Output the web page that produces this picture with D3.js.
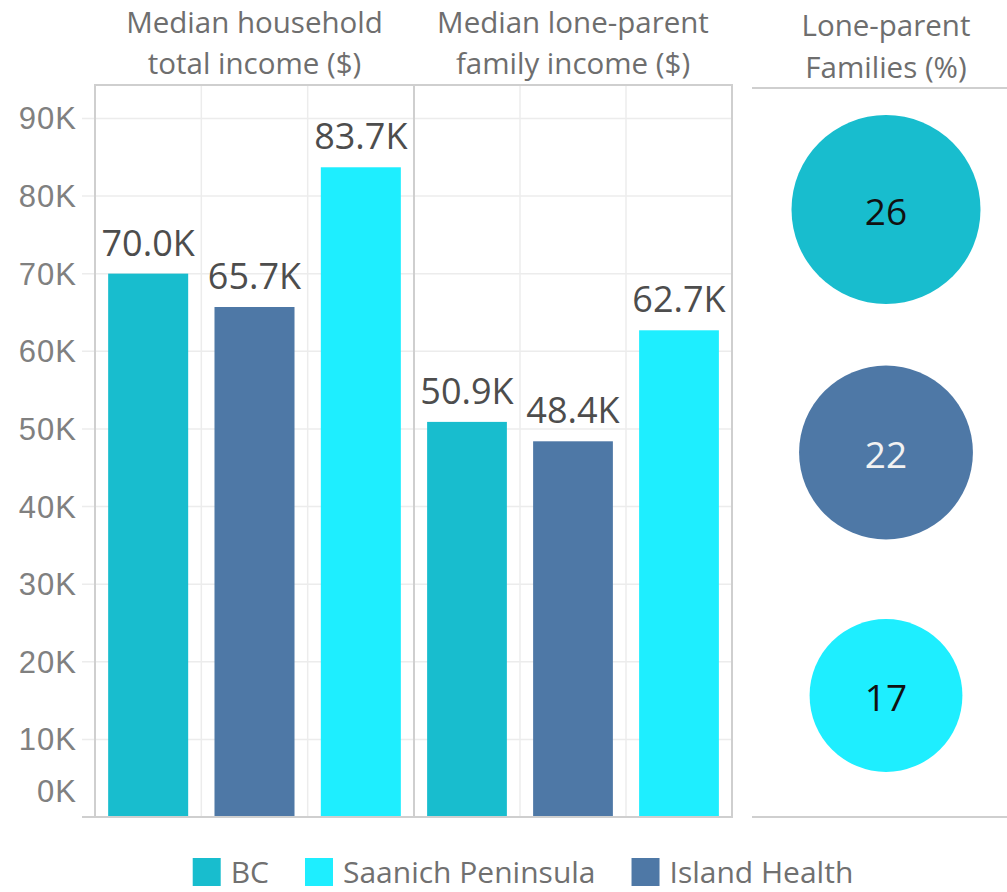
<!DOCTYPE html>
<html>
<head>
<meta charset="utf-8">
<script src="https://cdn.jsdelivr.net/npm/d3@7"></script>
<style>
  html, body { margin: 0; padding: 0; background: #fff; }
  svg { display: block; font-family: "Open Sans", "Noto Sans", sans-serif; }
</style>
</head>
<body>
<svg id="chart" width="1007" height="892"></svg>
<script>
// ---- data ----
const regions = ["BC", "Island Health", "Saanich Peninsula"];
const householdIncome = [70000, 65700, 83700];
const loneParentIncome = [50900, 48400, 62700];
const loneParentPct = [26, 22, 17];
const legendOrder = ["BC", "Saanich Peninsula", "Island Health"];
const regionColors = ["#18bdce", "#4e78a6", "#1eeeff"];
const yTicks = [0, 10000, 20000, 30000, 40000, 50000, 60000, 70000, 80000, 90000];
const panelTitles = [
  ["Median household", "total income ($)"],
  ["Median lone-parent", "family income ($)"]
];
const circleTitle = ["Lone-parent", "Families (%)"];
const pctLabelColors = ["#111111", "#f2f2f2", "#111111"];

// ---- layout ----
const svg = d3.select("#chart");
const plotTop = 85, plotBottom = 817;
const panels = [[95, 414], [414, 732]];
const circlePanel = [752, 1007];
const circleTop = 88;

const color = d3.scaleOrdinal().domain(regions).range(regionColors);
const y = d3.scaleLinear().domain([0, 94300]).range([plotBottom, plotTop]);

// gridlines (horizontal) across both bar panels, with small extension left
const grid = svg.append("g");
grid.selectAll("line.h")
  .data(yTicks.filter(d => d > 0))
  .join("line")
  .attr("x1", 82).attr("x2", panels[1][1])
  .attr("y1", d => y(d)).attr("y2", d => y(d))
  .attr("stroke", "#ececec").attr("stroke-width", 1.5);

// y axis labels
const yAxis = d3.axisLeft(y)
  .tickValues(yTicks)
  .tickSize(0)
  .tickPadding(18)
  .tickFormat(d => (d / 1000) + "K");
const ya = svg.append("g").attr("transform", `translate(${panels[0][0]},0)`).call(yAxis);
ya.select(".domain").remove();
ya.selectAll("text")
  .attr("fill", "#808080")
  .style("font-size", "31px")
  .style("letter-spacing", "1px")
  .attr("dy", "0.34em")
  .attr("y", d => d === 0 ? -26 : 0);

// bar panels
const datasets = [householdIncome, loneParentIncome];
panels.forEach((p, i) => {
  const x = d3.scaleBand().domain(regions).range(p).paddingInner(0.2475).paddingOuter(0.12375);
  const g = svg.append("g");
  g.selectAll("line.v")
    .data(regions.slice(1))
    .join("line")
    .attr("x1", d => x(d) - x.step() * x.paddingInner() / 2)
    .attr("x2", d => x(d) - x.step() * x.paddingInner() / 2)
    .attr("y1", plotTop).attr("y2", plotBottom)
    .attr("stroke", "#ececec").attr("stroke-width", 1.5);

  const rows = regions.map((r, k) => ({ region: r, value: datasets[i][k] }));
  g.selectAll("rect")
    .data(rows)
    .join("rect")
    .attr("x", d => x(d.region))
    .attr("width", x.bandwidth())
    .attr("y", d => y(d.value))
    .attr("height", d => y(0) - y(d.value))
    .attr("fill", d => color(d.region));

  g.selectAll("text.val")
    .data(rows)
    .join("text")
    .attr("class", "val")
    .attr("x", d => x(d.region) + x.bandwidth() / 2)
    .attr("y", d => y(d.value) - 18)
    .attr("text-anchor", "middle")
    .attr("fill", "#4d4d4d")
    .style("font-size", "36px")
    .text(d => d3.format(".1f")(d.value / 1000) + "K");

  const t = svg.append("text")
    .attr("text-anchor", "middle")
    .attr("fill", "#6e6e6e")
    .style("font-size", "29.5px");
  panelTitles[i].forEach((line, j) => {
    t.append("tspan").attr("x", (p[0] + p[1]) / 2).attr("y", 33 + j * 41).text(line);
  });
});

// panel borders
const border = svg.append("g").attr("fill", "none").attr("stroke", "#cfcfcf").attr("stroke-width", 2);
border.append("rect")
  .attr("x", panels[0][0]).attr("y", plotTop)
  .attr("width", panels[1][1] - panels[0][0]).attr("height", plotBottom - plotTop);
border.append("line")
  .attr("x1", panels[1][0]).attr("x2", panels[1][0])
  .attr("y1", plotTop).attr("y2", plotBottom);
border.append("line")
  .attr("x1", 82).attr("x2", panels[0][0])
  .attr("y1", plotBottom).attr("y2", plotBottom);

// circle panel
const cp = svg.append("g");
cp.append("line").attr("x1", circlePanel[0]).attr("x2", circlePanel[1])
  .attr("y1", circleTop).attr("y2", circleTop).attr("stroke", "#cfcfcf").attr("stroke-width", 2);
cp.append("line").attr("x1", circlePanel[0]).attr("x2", circlePanel[1])
  .attr("y1", plotBottom).attr("y2", plotBottom).attr("stroke", "#cfcfcf").attr("stroke-width", 2);

const cy = d3.scaleBand().domain(regions).range([circleTop, plotBottom]);
const r = d3.scaleSqrt().domain([0, 26]).range([0, 94.5]);
const cx = 886;
const crow = regions.map((reg, k) => ({ region: reg, value: loneParentPct[k], lc: pctLabelColors[k] }));
cp.selectAll("circle")
  .data(crow)
  .join("circle")
  .attr("cx", cx)
  .attr("cy", d => cy(d.region) + cy.bandwidth() / 2)
  .attr("r", d => r(d.value))
  .attr("fill", d => color(d.region));
cp.selectAll("text.pct")
  .data(crow)
  .join("text")
  .attr("class", "pct")
  .attr("x", cx)
  .attr("y", d => cy(d.region) + cy.bandwidth() / 2 + 2)
  .attr("dy", "0.36em")
  .attr("text-anchor", "middle")
  .attr("fill", d => d.lc)
  .style("font-size", "37px")
  .text(d => d.value);

const ct = svg.append("text")
  .attr("text-anchor", "middle")
  .attr("fill", "#6e6e6e")
  .style("font-size", "29.5px");
circleTitle.forEach((line, j) => {
  ct.append("tspan").attr("x", cx).attr("y", 36 + j * 42).text(line);
});

// legend
const lg = svg.append("g");
let lx = 0;
legendOrder.forEach((name, k) => {
  const item = lg.append("g").attr("transform", `translate(${lx},0)`);
  item.append("rect").attr("x", 0).attr("y", -14).attr("width", 28).attr("height", 28)
    .attr("fill", color(name));
  const tx = item.append("text").attr("x", 38).attr("y", 0).attr("dy", "0.36em")
    .attr("fill", "#707070").style("font-size", "30px").text(name);
  lx += 38 + tx.node().getComputedTextLength() + 36;
});
const lb = lg.node().getBBox();
lg.attr("transform", `translate(${523 - (lb.x + lb.width / 2)},872)`);
</script>
</body>
</html>
